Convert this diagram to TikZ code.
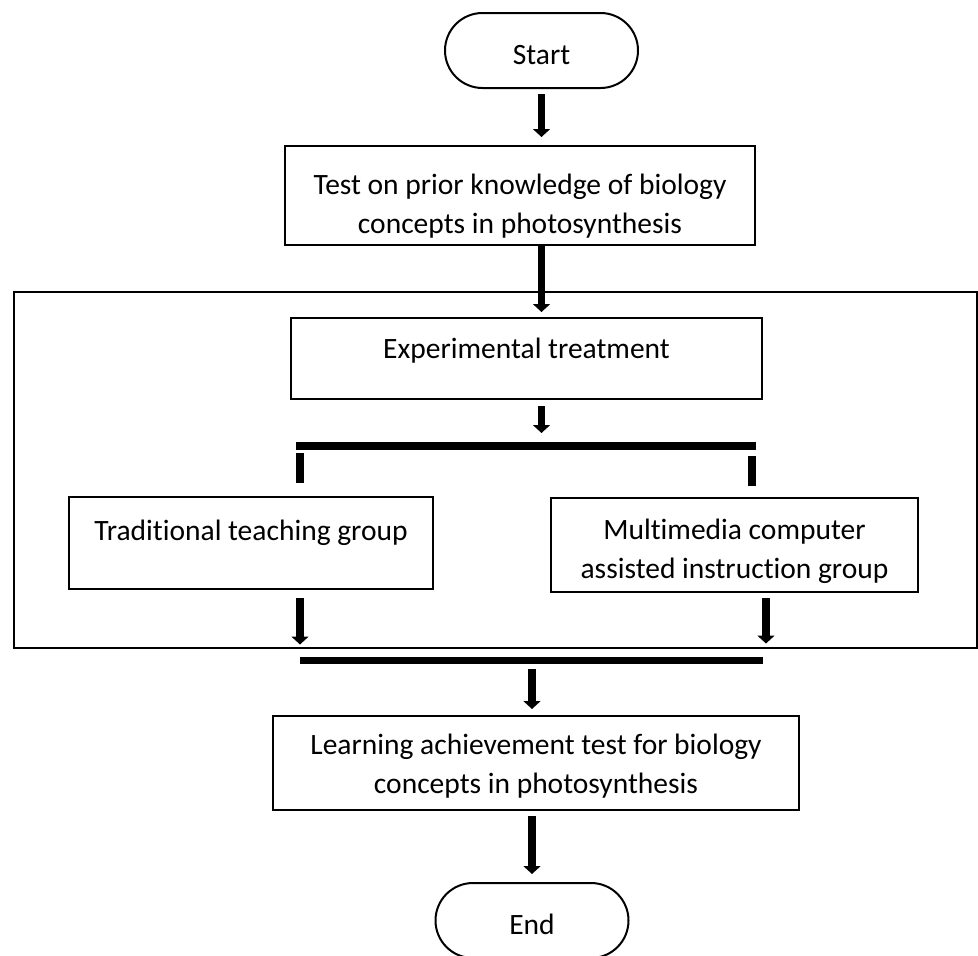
\documentclass[tikz,border=0pt]{standalone}
\usepackage{fontspec}
\setmainfont{Carlito}[Ligatures=NoCommon]
\usetikzlibrary{arrows.meta,shapes.misc}

\begin{document}
\begin{tikzpicture}[x=1pt,y=-1pt,
  every node/.style={font=\fontsize{29.5}{39}\selectfont, align=center},
  box/.style={draw, line width=2pt, inner sep=0pt},
  term/.style={draw, line width=2pt, rounded rectangle, inner sep=0pt,
    minimum width=193pt, text height=51pt, text depth=24pt},
  arr/.style={line width=7.5pt, -{Triangle[width=17pt,length=8pt]}},
  bar/.style={line width=8pt}]

  \useasboundingbox (0,0) rectangle (978,956);

  \node[box, minimum width=963pt, minimum height=356pt] (phase) at (495.5,470) {};

  \node[term] (start) at (541.5,50.5) {Start};
  \node[box, minimum width=470pt, text height=87pt, text depth=12pt] (test) at (520,195.5)
    {Test on prior knowledge of biology\\concepts in photosynthesis};
  \node[box, minimum width=471pt, text height=40pt, text depth=41pt] (exp) at (526.5,358.5)
    {Experimental treatment};
  \node[box, minimum width=364pt, text height=43pt, text depth=49pt] (trad) at (251,543)
    {Traditional teaching group};
  \node[box, minimum width=367pt, text height=80pt, text depth=14pt] (multi) at (734.5,545)
    {Multimedia computer\\assisted instruction group};
  \node[box, minimum width=526pt, text height=77pt, text depth=17pt] (learn) at (536,763)
    {Learning achievement test for biology\\concepts in photosynthesis};
  \node[term] (stop) at (532,920.5) {End};

  % split and join bars
  \coordinate (t1) at (300,445.5);
  \coordinate (t2) at (752,445.5);
  \coordinate (b1) at (300,660.5);
  \coordinate (b2) at (766,660.5);

  \draw[bar] ([xshift=-4pt]t1) -- ([xshift=4pt]t2);
  \draw[bar, line width=7.5pt] (b1) -- ([xshift=-3pt]b2);
  \draw[bar, shorten <=7.5pt, shorten >=13pt] (t1) -- (t1 |- trad.north);
  \draw[bar, shorten <=10.5pt, shorten >=11pt] (t2) -- (t2 |- multi.north);

  \draw[arr, shorten <=5pt, shorten >=8pt] (start.south) -- (start |- test.north);
  \draw[arr, shorten >=5pt] (test.south -| start) -- (start |- exp.north);
  \draw[arr, shorten <=6pt, shorten >=12.5pt] (exp.south -| start) -- (start |- t1);
  \draw[arr, shorten <=8pt, shorten >=16pt] (trad.south -| b1) -- (b1);
  \draw[arr, shorten <=5pt, shorten >=17pt] (multi.south -| b2) -- (b2);
  \draw[arr, shorten <=8.5pt, shorten >=6pt] (b1 -| stop) -- (stop |- learn.north);
  \draw[arr, shorten <=5pt, shorten >=8pt] (learn.south -| stop) -- (stop.north);

\end{tikzpicture}
\end{document}
